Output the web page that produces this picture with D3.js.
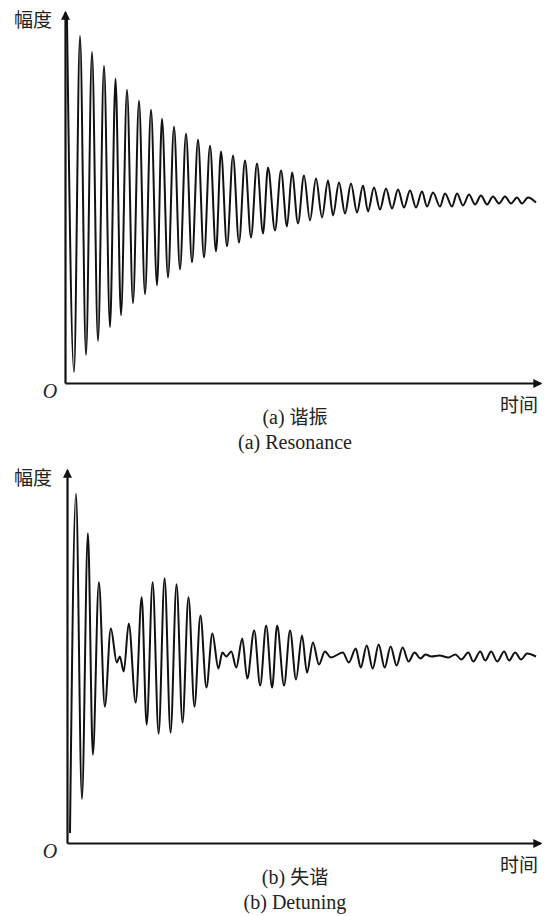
<!DOCTYPE html>
<html>
<head>
<meta charset="utf-8">
<script src="https://cdn.jsdelivr.net/npm/d3@7"></script>
<style>
  body { margin: 0; background: #fff; }
  svg { display: block; }
</style>
</head>
<body>
<div id="chart"></div>
<script>
// (a) resonance: peaks and troughs (time, amplitude)
var resonanceT = [0.4, 1.8, 3.0, 4.2, 5.4, 6.6, 7.8, 9.0, 10.1, 11.2, 12.4, 13.6, 14.8, 16.0, 17.2, 18.4,
    19.4, 20.6, 21.8, 23.0, 24.2, 25.4, 26.6, 27.8, 29.0, 30.2, 31.2, 32.4, 33.6, 34.8, 36.0, 37.2,
    38.4, 39.6, 40.6, 42.0, 43.2, 44.4, 45.4, 46.6, 47.8, 49.0, 50.2, 51.4, 52.6, 53.6, 54.8, 56.0,
    57.2, 58.4, 59.6, 60.6, 61.8, 63.0, 64.2, 65.4, 66.6, 67.8, 69.0, 70.2, 71.4, 72.4, 73.6, 75.0,
    76.0, 77.4, 78.4, 79.6, 80.8, 82.0, 83.2, 84.4, 85.6, 86.8, 88.0, 89.2, 90.4, 91.4, 92.6, 94.2];
var resonanceA = [73.0, 2.2, 69.6, 5.6, 66.4, 8.4, 63.6, 11.2, 61.0, 13.6, 58.8, 16.0, 56.6, 17.8, 54.8, 19.6,
    53.0, 21.2, 51.4, 22.8, 50.0, 24.2, 48.8, 25.2, 47.6, 26.4, 46.4, 27.4, 45.6, 28.2, 44.6, 29.2,
    44.0, 30.0, 43.2, 30.6, 42.6, 31.4, 42.2, 32.0, 41.6, 32.6, 41.0, 33.2, 40.6, 33.6, 40.2, 34.0,
    40.0, 34.2, 39.6, 34.4, 39.2, 34.8, 39.0, 35.0, 38.8, 35.2, 38.6, 35.2, 38.4, 35.4, 38.2, 35.4,
    38.0, 35.4, 38.0, 35.6, 37.8, 35.8, 37.6, 35.8, 37.4, 36.0, 37.4, 36.0, 37.2, 36.0, 37.2, 36.2];

// (b) detuning: beating envelope
var detuningT = [0.6, 1.8, 3.0, 4.2, 5.2, 6.4, 7.6, 8.8, 10.0, 10.6, 11.4, 12.4, 13.8, 15.0, 16.0, 17.2,
    18.4, 19.6, 20.8, 22.0, 23.2, 24.4, 25.6, 26.8, 28.0, 29.2, 30.4, 31.2, 32.0, 33.0, 34.0, 35.2,
    36.2, 37.6, 38.8, 40.0, 41.2, 42.2, 43.6, 44.8, 46.0, 47.2, 48.2, 49.4, 50.6, 51.8, 53.0, 55.4,
    56.6, 58.0, 59.0, 60.2, 61.4, 62.6, 63.8, 65.0, 66.2, 67.4, 68.6, 69.8, 71.0, 72.0, 73.2, 74.8,
    76.6, 78.0, 79.2, 80.6, 81.6, 83.0, 84.0, 85.2, 86.4, 87.8, 88.8, 90.0, 91.2, 92.4, 94.2];
var detuningA = [2.0, 69.6, 8.8, 61.8, 17.6, 52.0, 27.2, 42.8, 36.0, 37.2, 34.2, 43.8, 28.0, 49.0, 23.6, 52.0,
    21.8, 52.8, 22.0, 51.6, 24.0, 49.0, 27.2, 45.4, 31.0, 41.8, 34.8, 38.0, 37.2, 38.2, 35.0, 40.8,
    32.8, 42.4, 31.4, 43.4, 31.0, 43.4, 31.4, 42.4, 32.6, 41.4, 34.0, 40.0, 35.6, 38.2, 37.0, 38.0,
    36.0, 38.8, 35.0, 39.4, 34.8, 39.6, 35.0, 39.2, 35.4, 39.0, 36.2, 38.0, 36.8, 37.6, 37.2, 37.4,
    37.0, 37.6, 36.6, 38.0, 36.2, 38.2, 36.4, 38.2, 36.2, 38.2, 36.4, 38.0, 36.6, 37.8, 37.2];

var axisLabels = { y: "幅度", x: "时间", origin: "O" };
var captionsCn = ["(a) 谐振", "(b) 失谐"];
var captionsEn = ["(a) Resonance", "(b) Detuning"];

var width = 545, height = 916;
var svg = d3.select("#chart").append("svg")
    .attr("width", width)
    .attr("height", height);

svg.append("defs").append("marker")
    .attr("id", "arrow")
    .attr("markerUnits", "userSpaceOnUse")
    .attr("viewBox", "0 0 10 10")
    .attr("refX", 8).attr("refY", 5)
    .attr("markerWidth", 9).attr("markerHeight", 9)
    .attr("orient", "auto")
    .append("path")
    .attr("d", "M0,0L10,5L0,10z")
    .attr("fill", "#111");

var cjk = "'Noto Sans CJK SC', sans-serif";
var serif = "'Liberation Serif', 'Times New Roman', serif";

function drawPanel(i, times, amps, left, bottom, top) {
    var x = d3.scaleLinear().domain([0, 95]).range([left, 540]);
    var y = d3.scaleLinear().domain([0, 74.4]).range([bottom, top]);

    var g = svg.append("g");

    // signal
    var line = d3.line()
        .x(function(d) { return x(d[0]); })
        .y(function(d) { return y(d[1]); })
        .curve(d3.curveMonotoneX);

    g.append("path")
        .datum(d3.zip(times, amps))
        .attr("d", line)
        .attr("fill", "none")
        .attr("stroke", "#111")
        .attr("stroke-width", 2)
        .attr("stroke-linejoin", "round");

    // axes without ticks, arrow at the end
    g.append("g")
        .attr("transform", "translate(0," + bottom + ")")
        .call(d3.axisBottom(x).tickValues([]).tickSizeOuter(0))
        .select(".domain")
        .attr("stroke", "#111").attr("stroke-width", 2.2)
        .attr("marker-end", "url(#arrow)");

    g.append("g")
        .attr("transform", "translate(" + left + ",0)")
        .call(d3.axisLeft(y).tickValues([]).tickSizeOuter(0))
        .select(".domain")
        .attr("stroke", "#111").attr("stroke-width", 2.2)
        .attr("marker-end", "url(#arrow)");

    g.append("text")
        .attr("x", 14).attr("y", top + 15)
        .style("font-family", cjk).style("font-size", "19px").style("fill", "#222")
        .text(axisLabels.y);

    g.append("text")
        .attr("x", 50).attr("y", bottom + 15)
        .attr("text-anchor", "middle")
        .style("font-family", serif).style("font-size", "20px").style("font-style", "italic").style("fill", "#222")
        .text(axisLabels.origin);

    g.append("text")
        .attr("x", 538).attr("y", bottom + 29)
        .attr("text-anchor", "end")
        .style("font-family", cjk).style("font-size", "19px").style("fill", "#222")
        .text(axisLabels.x);

    var cap = g.append("text")
        .attr("x", 295).attr("y", bottom + 41)
        .attr("text-anchor", "middle")
        .style("font-family", serif).style("font-size", "20px").style("fill", "#222");
    cap.append("tspan").text(captionsCn[i].split(" ")[0] + " ");
    cap.append("tspan").style("font-family", cjk).style("font-size", "19px").text(captionsCn[i].split(" ")[1]);

    g.append("text")
        .attr("x", 295).attr("y", bottom + 66)
        .attr("text-anchor", "middle")
        .style("font-family", serif).style("font-size", "20px").style("fill", "#222")
        .text(captionsEn[i]);
}

drawPanel(0, resonanceT, resonanceA, 65, 383, 12);
drawPanel(1, detuningT, detuningA, 67, 843, 470);
</script>
</body>
</html>
